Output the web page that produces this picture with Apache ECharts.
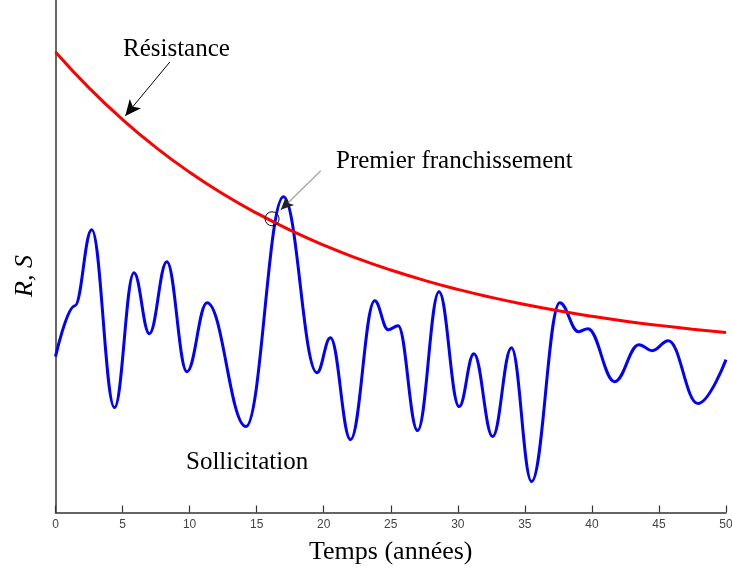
<!DOCTYPE html>
<html>
<head>
<meta charset="utf-8">
<script src="https://cdn.jsdelivr.net/npm/echarts@6/dist/echarts.min.js"></script>
<style>html,body{margin:0;padding:0;background:#fff}#c{width:732px;height:571px}</style>
</head>
<body>
<div id="c"></div>
<script>
// x tick labels
var xTicks = [0, 5, 10, 15, 20, 25, 30, 35, 40, 45, 50];
// Résistance (R) – years and values (arbitrary units)
var resT = [0, 2.5, 5, 7.5, 10, 12.5, 15, 17.5, 20, 22.5, 25, 27.5, 30, 32.5, 35, 37.5, 40, 42.5, 45, 47.5, 50];
var resV = [461, 425, 393.3, 365.3, 340.6, 318.8, 299.6, 282.6, 267.6, 254.4, 242.7, 232.4, 223.3, 215.3, 208.2, 201.9, 196.4, 191.5, 187.3, 183.5, 180.1];
// Sollicitation (S) – years and values
var solT = [0, 1.45, 2.7, 4.4, 5.85, 7.0, 8.3, 9.8, 11.3, 14.2, 17.0, 19.5, 20.5, 22.0, 23.8, 24.8, 25.55, 27.0, 28.6, 30.1, 31.2, 32.6, 34.0, 35.5, 37.6, 39.0, 39.7, 41.7, 43.5, 44.5, 45.7, 47.9, 50];
var solV = [156, 207, 283, 105, 240, 179, 251, 141, 210, 86, 316, 140, 175, 73, 212, 183, 187, 82, 221, 106, 159, 76, 165, 31, 210, 181, 184, 131, 168, 162, 172, 109, 153];
// first crossing point
var crossing = [16.15, 294];

var chart = echarts.init(document.getElementById('c'));
var serif = '"Liberation Serif", "Times New Roman", serif';
function pairs(t, v) { return t.map(function (x, i) { return [x, v[i]]; }); }

chart.setOption({
  animation: false,
  grid: { left: 55.5, right: 6, top: 0, bottom: 58.5, containLabel: false, outerBoundsMode: 'none' },
  xAxis: {
    type: 'value', min: 0, max: 50, interval: 5,
    name: 'Temps (années)', nameLocation: 'middle', nameGap: 27,
    nameTextStyle: { fontFamily: serif, fontSize: 26, color: '#000' },
    axisLine: { lineStyle: { color: '#333', width: 1.5 } },
    axisTick: { inside: true, length: 7, lineStyle: { color: '#333', width: 1.2 },
      interval: function (i, v) { return i === 1 || i >= 6; } },
    axisLabel: { color: '#444', fontSize: 12, fontFamily: '"Liberation Sans", Arial, sans-serif', margin: 6,
      formatter: function (v) { return xTicks.indexOf(v) >= 0 ? String(v) : ''; } },
    splitLine: { show: false }
  },
  yAxis: {
    type: 'value', min: 0, max: 513,
    axisLine: { show: true, lineStyle: { color: '#333', width: 1.5 } },
    axisTick: { show: false }, axisLabel: { show: false }, splitLine: { show: false }
  },
  series: [
    {
      type: 'line', name: 'Résistance', data: pairs(resT, resV), smooth: true, showSymbol: false,
      lineStyle: { color: '#ff0000', width: 3 }, z: 3,
      markLine: {
        silent: true, symbol: ['none', 'arrow'], symbolSize: [11, 16],
        label: { show: false },
        lineStyle: { color: '#000', width: 1, type: 'solid' },
        data: [[{ coord: [8.53, 451] }, { coord: [5.2, 397] }]]
      }
    },
    {
      type: 'line', name: 'Sollicitation', data: pairs(solT, solV), smooth: 0.4, smoothMonotone: 'x', showSymbol: false,
      lineStyle: { color: '#0000ff', width: 3 }, z: 2
    },
    {
      type: 'line', data: [], z: 5,
      markLine: {
        silent: true, symbol: ['none', 'none'], label: { show: false },
        lineStyle: { color: '#aaa', width: 1.5, type: 'solid' },
        data: [[{ coord: [19.78, 342] }, { coord: [17.2, 308] }]]
      },
      markPoint: {
        silent: true, symbol: 'circle', symbolSize: 14, label: { show: false },
        itemStyle: { color: 'rgba(0,0,0,0)', borderColor: '#000', borderWidth: 1 },
        data: [{ coord: crossing }]
      }
    },
    {
      type: 'line', data: [], z: 6,
      markLine: {
        silent: true, symbol: ['none', 'arrow'], symbolSize: [9, 13], label: { show: false },
        lineStyle: { color: '#222', width: 1, type: 'solid' },
        data: [[{ coord: [17.4, 311] }, { coord: [16.8, 303] }]]
      }
    }
  ],
  graphic: [
    { type: 'text', left: 123, top: 37, style: { text: 'Résistance', fontFamily: serif, fontSize: 25, fill: '#000' } },
    { type: 'text', left: 336, top: 149, style: { text: 'Premier franchissement', fontFamily: serif, fontSize: 25, fill: '#000' } },
    { type: 'text', left: 186, top: 450, style: { text: 'Sollicitation', fontFamily: serif, fontSize: 25, fill: '#000' } },
    { type: 'text', x: 25, y: 276, rotation: Math.PI / 2,
      style: { text: 'R, S', fontFamily: serif, fontStyle: 'italic', fontSize: 26, fill: '#000', align: 'center', verticalAlign: 'middle' } }
  ]
});
</script>
</body>
</html>
